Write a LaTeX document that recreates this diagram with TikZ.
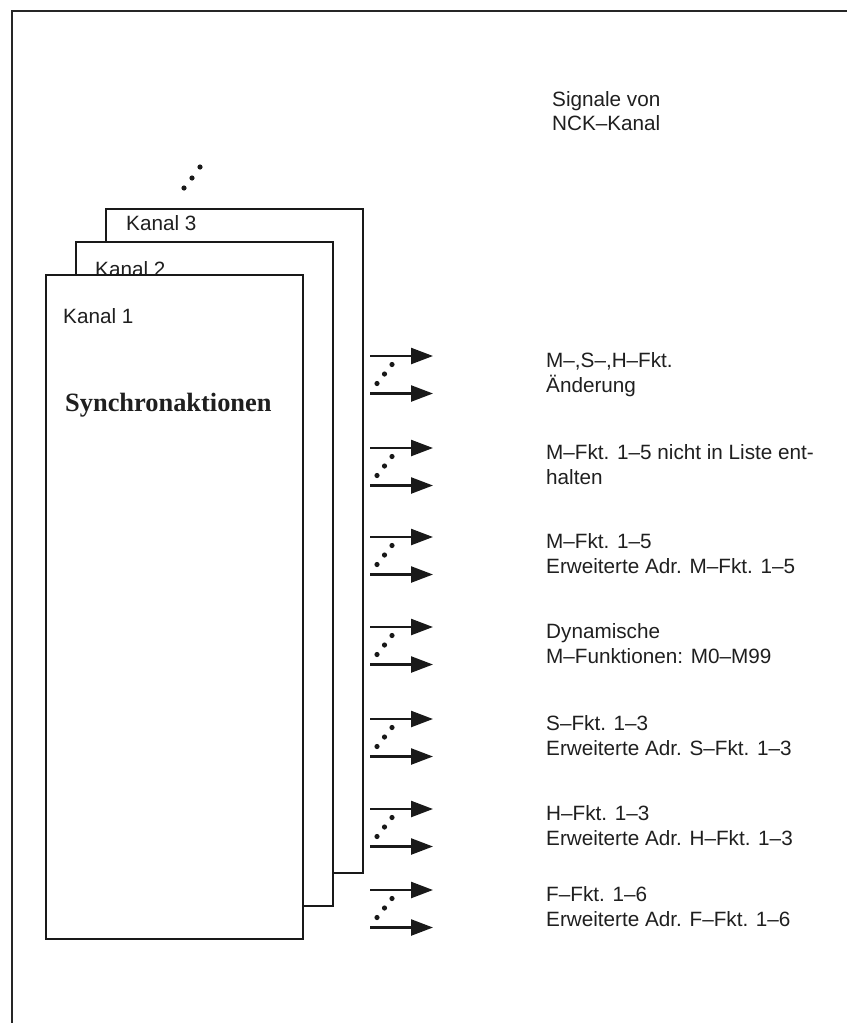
\documentclass[tikz,border=0pt]{standalone}
\usepackage{fontspec}
\setmainfont{Liberation Sans}
\newfontfamily\sbold{Liberation Serif}
\usetikzlibrary{arrows.meta}
\begin{document}
\begin{tikzpicture}[x=1pt,y=-1pt,
  chan/.style={draw=black!90, line width=2.4pt, fill=white, anchor=north west,
               minimum width=257pt, minimum height=664pt, inner sep=0pt},
  lbl/.style={anchor=base west, inner sep=0pt, font=\fontsize{20.7}{25}\selectfont, text=black!88},
  sig/.style={-{Triangle[length=22pt,width=16pt]}, line width=2.4pt, draw=black!90},
  dotm/.style={fill=black!90, circle, inner sep=0pt, minimum size=5.2pt}]
\useasboundingbox (0,0) rectangle (847,1023);
% frame
\coordinate (fbl) at (12,1023);
\coordinate (ftl) at (12,11);
\coordinate (ftr) at (847,11);
\draw[line width=1.2pt, black!85] (fbl) -- (ftl) -- (ftr);
% channel boxes
\node[chan] (k3) at (105,208) {};
\node[chan] (k2) at (75,241) {};
\node[lbl] (t3) at (126,230) {Kanal 3};
\node[lbl] (t2) at (95,276) {Kanal 2};
\node[chan] (k1) at (45,274) {};
\node[lbl] (t1) at (63,323) {Kanal 1};
\node[anchor=base west, inner sep=0pt, font=\sbold\bfseries\fontsize{26.4}{30}\selectfont, text=black!88]
  (sync) at (65,411) {Synchronaktionen};
% dots above
\node[dotm] (td1) at (184,188) {};
\node[dotm] (td2) at (192,178) {};
\node[dotm] (td3) at (200,167) {};
% heading
\node[lbl] (h1) at (552,106) {Signale von};
\node[lbl] (h2) at (552,130) {NCK–Kanal};
% signal arrows and labels
\foreach \i/\y/\ta/\tb in {
  1/356/{M–,S–,H–Fkt.}/{Änderung},
  2/448/{M–Fkt. 1–5 nicht in Liste ent-}/{halten},
  3/537/{M–Fkt. 1–5}/{Erweiterte Adr. M–Fkt. 1–5},
  4/627/{Dynamische}/{M–Funktionen: M0–M99},
  5/719/{S–Fkt. 1–3}/{Erweiterte Adr. S–Fkt. 1–3},
  6/809/{H–Fkt. 1–3}/{Erweiterte Adr. H–Fkt. 1–3},
  7/890/{F–Fkt. 1–6}/{Erweiterte Adr. F–Fkt. 1–6}} {
  \coordinate (as\i) at (370,\y);
  \coordinate (ae\i) at (433,\y);
  \coordinate (bs\i) at (370,\y+37.5);
  \coordinate (be\i) at (433,\y+37.5);
  \draw[sig] (as\i) -- (ae\i);
  \draw[sig] (bs\i) -- (be\i);
  \node[dotm] (da\i) at (377,\y+27.5) {};
  \node[dotm] (db\i) at (384.5,\y+18) {};
  \node[dotm] (dc\i) at (392,\y+8.5) {};
  \node[lbl] (la\i) at (546,\y+11) {\ta};
  \node[lbl] (lb\i) at (546,\y+36) {\tb};
}
\end{tikzpicture}
\end{document}
